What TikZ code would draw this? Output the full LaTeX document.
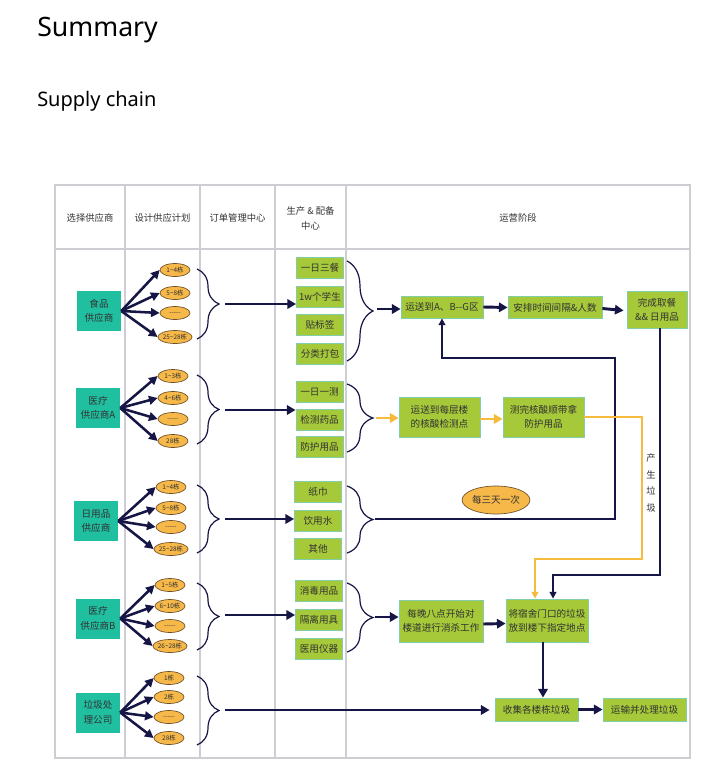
\documentclass[tikz,border=0pt]{standalone}
\usepackage{fontspec}
\setmainfont{Noto Sans}
\newfontfamily\cjk{Noto Sans CJK SC}
\usetikzlibrary{arrows.meta,shapes.geometric,decorations.pathreplacing}
\definecolor{tealc}{RGB}{32,191,160}
\definecolor{greenc}{RGB}{166,201,58}
\definecolor{greenb}{RGB}{130,205,170}
\definecolor{orangec}{RGB}{246,184,72}
\definecolor{orangeb}{RGB}{110,80,40}
\definecolor{orarr}{RGB}{246,186,60}
\definecolor{navy}{RGB}{22,22,70}
\definecolor{gridc}{RGB}{205,205,210}
\definecolor{txt}{RGB}{50,50,50}
\newcommand\mydashes{-{}-{}-{}-{}-}
\def\u{0.75pt}
\begin{document}
\begin{tikzpicture}[x=0.75pt,y=-0.75pt,
  hdr/.style={font=\cjk\fontsize{7}{11}\selectfont, text=txt, align=center},
  sup/.style={fill=tealc, draw=none, minimum width=44*\u, minimum height=40*\u, inner sep=0pt, align=center, font=\cjk\fontsize{7.2}{11}\selectfont, text=txt},
  ell/.style={ellipse, fill=orangec, draw=orangeb, line width=0.5pt, minimum width=30*\u, minimum height=13*\u, inner sep=0pt, font=\cjk\fontsize{4.8}{5}\selectfont, text=txt},
  gbox/.style={fill=greenc, draw=greenb, line width=0.6pt, minimum width=47*\u, minimum height=21*\u, inner sep=0pt, font=\cjk\fontsize{7.2}{10}\selectfont, text=txt},
  obox/.style={fill=greenc, draw=greenb, line width=0.6pt, inner sep=0pt, align=center, font=\cjk\fontsize{7.2}{10.5}\selectfont, text=txt},
  sarr/.style={draw=navy, line width=1.9pt, -{Triangle[length=6.5pt,width=6.5pt]}},
  marr/.style={draw=navy, line width=2.2pt, -{Triangle[length=6.5pt,width=7pt]}},
  oarr/.style={draw=orarr, line width=2.2pt, -{Triangle[length=6.5pt,width=7pt]}},
  loop/.style={draw=navy, line width=1.3pt},
  oloop/.style={draw=orarr, line width=1.3pt},
  brc/.style={draw=navy, line width=0.9pt, decorate, decoration={brace, amplitude=16.5pt}},
  brc2/.style={draw=navy, line width=0.9pt, decorate, decoration={brace, amplitude=19.5pt}},
  grid/.style={draw=gridc, line width=0.8pt}
]
\useasboundingbox (0,0) rectangle (709,772);
\fill[white] (0,0) rectangle (709,772);

% titles
\node[anchor=base west, inner sep=0pt, font=\fontsize{20}{24}\selectfont, text=black] (ttl) at (37,36) {Summary};
\node[anchor=base west, inner sep=0pt, font=\fontsize{15}{18}\selectfont, text=black] (sub) at (37,106) {Supply chain};

% table
\draw[grid] (55,185) rectangle (690,758);
\draw[grid] (55,249) -- (690,249);
\foreach \xx in {125,200,275,346} { \draw[grid] (\xx,185) -- (\xx,758); }

\node[hdr] (h1) at (90,218) {选择供应商};
\node[hdr] (h2) at (162.5,218) {设计供应计划};
\node[hdr] (h3) at (237.5,218) {订单管理中心};
\node[hdr] (h4) at (310.5,218.5) {生产 \& 配备\\中心};
\node[hdr] (h5) at (518,218) {运营阶段};

% suppliers
\node[sup] (s1) at (99,311) {食品\\供应商};
\node[sup] (s2) at (98,408) {医疗\\供应商A};
\node[sup] (s3) at (96,521) {日用品\\供应商};
\node[sup] (s4) at (98,618.5) {医疗\\供应商B};
\node[sup] (s5) at (98,712.5) {垃圾处\\理公司};

% ellipses
\foreach \n/\yy/\t in {a/270/{1\textasciitilde4栋}, b/293/{5\textasciitilde8栋}, c/313/{\mydashes}, d/337/{25\textasciitilde28栋}} {
  \node[ell] (e1\n) at (175,\yy) {\t};
  \draw[sarr] (s1.east) -- (e1\n.west);
}
\foreach \n/\yy/\t in {a/376/{1\textasciitilde3栋}, b/398/{4\textasciitilde6栋}, c/419/{\mydashes}, d/441/{28栋}} {
  \node[ell] (e2\n) at (173,\yy) {\t};
  \draw[sarr] (s2.east) -- (e2\n.west);
}
\foreach \n/\yy/\t in {a/487/{1\textasciitilde4栋}, b/508/{5\textasciitilde8栋}, c/527/{\mydashes}, d/549/{25\textasciitilde28栋}} {
  \node[ell] (e3\n) at (171,\yy) {\t};
  \draw[sarr] (s3.east) -- (e3\n.west);
}
\foreach \n/\yy/\t in {a/585/{1\textasciitilde5栋}, b/606/{6\textasciitilde10栋}, c/626/{\mydashes}, d/646/{26\textasciitilde28栋}} {
  \node[ell] (e4\n) at (170,\yy) {\t};
  \draw[sarr] (s4.east) -- (e4\n.west);
}
\foreach \n/\yy/\t in {a/678/{1栋}, b/697/{2栋}, c/717/{\mydashes}, d/738/{28栋}} {
  \node[ell] (e5\n) at (169,\yy) {\t};
  \draw[sarr] (s5.east) -- (e5\n.west);
}

% left braces
\draw[brc] (197,269) -- (197,339);
\draw[brc] (197,375) -- (197,444);
\draw[brc] (197,485) -- (197,553);
\draw[brc] (197,583) -- (197,650);
\draw[brc] (197,676) -- (197,745);

% green boxes
\node[gbox] (g1a) at (320,268) {一日三餐};
\node[gbox] (g1b) at (320,297) {1w个学生};
\node[gbox] (g1c) at (320,324.5) {贴标签};
\node[gbox] (g1d) at (320,353.5) {分类打包};
\node[gbox] (g2a) at (319.5,391.5) {一日一测};
\node[gbox] (g2b) at (319.5,420) {检测药品};
\node[gbox] (g2c) at (319.5,447) {防护用品};
\node[gbox] (g3a) at (318,492) {纸巾};
\node[gbox] (g3b) at (318,520.5) {饮用水};
\node[gbox] (g3c) at (318,548.5) {其他};
\node[gbox] (g4a) at (319,590.5) {消毒用品};
\node[gbox] (g4b) at (319,620) {隔离用具};
\node[gbox] (g4c) at (319,648.5) {医用仪器};

% arrows into production column
\coordinate (t1) at (225,304);
\coordinate (t2) at (225,410);
\coordinate (t3) at (225,519);
\coordinate (t4) at (225,615);
\coordinate (t5) at (225,710);
\draw[marr] (t1) -- (t1 -| g1b.west);
\draw[marr] (t2) -- (t2 -| g2b.west);
\draw[marr] (t3) -- (t3 -| g3b.west);
\draw[marr] (t4) -- (t4 -| g4b.west);

% right braces
\draw[brc2] (347,261) -- (347,361);
\draw[brc2] (347,384) -- (347,452);
\draw[brc2] (347,486) -- (347,553);
\draw[brc2] (347,583) -- (347,652);

% operation boxes
\node[obox, minimum width=82*\u, minimum height=22*\u] (o1) at (442,307) {运送到A、B-{}-G区};
\node[obox, minimum width=94*\u, minimum height=22*\u] (o2) at (555,307.5) {安排时间间隔\&人数};
\node[obox, minimum width=60*\u, minimum height=37*\u] (o3) at (657,309.5) {完成取餐\\\&\& 日用品};
\node[obox, minimum width=81*\u, minimum height=40*\u] (o4) at (439.5,417) {运送到每层楼\\的核酸检测点};
\node[obox, minimum width=81*\u, minimum height=40*\u] (o5) at (543.5,417) {测完核酸顺带拿\\防护用品};
\node[obox, minimum width=84*\u, minimum height=42*\u] (o6) at (441,621) {每晚八点开始对\\楼道进行消杀工作};
\node[obox, minimum width=82*\u, minimum height=43*\u] (o7) at (547,620.5) {将宿舍门口的垃圾\\放到楼下指定地点};
\node[obox, minimum width=83*\u, minimum height=23*\u] (o8) at (536.5,709.5) {收集各楼栋垃圾};
\node[obox, minimum width=83*\u, minimum height=23*\u] (o9) at (644.5,709.5) {运输并处理垃圾};

\node[ellipse, fill=orangec, draw=orangeb, line width=0.5pt, minimum width=65*\u, minimum height=28*\u, inner sep=0pt, font=\cjk\fontsize{7.2}{9}\selectfont, text=txt] (ev) at (496,500) {每三天一次};

\node[font=\cjk\fontsize{7}{12.5}\selectfont, text=txt, align=center, inner sep=0pt] (lbl) at (651,483) {产\\生\\垃\\圾};

% operation flow
\coordinate (r1) at (377,309);
\coordinate (r2) at (376,418);
\coordinate (r3) at (375,519);
\coordinate (r4) at (375,617);
\draw[marr] (r1) -- (r1 -| o1.west);
\draw[marr] (o1.east) -- (o2.west);
\draw[marr] ([yshift=-1*\u]o2.east) -- ([xshift=-3*\u,yshift=-1*\u]o3.west);
\draw[oarr] (r2) -- (r2 -| o4.west);
\draw[oarr] ([yshift=-2*\u]o4.east) -- ([yshift=-2*\u]o5.west);
\draw[marr] (r4) -- (r4 -| o6.west);
\draw[marr] ([yshift=-3*\u]o6.east) -- ([yshift=-3*\u]o7.west);

% loop from 日用品 back to o1
\coordinate (k1) at (615,519);
\coordinate (k2) at (615,358);
\draw[loop, -{Triangle[length=5pt,width=5pt]}] (r3) -- (k1) -- (k2) -- (k2 -| o1.south) -- (o1.south);

% from o3 down to o7
\coordinate (m1) at (660,575);
\coordinate (m2) at (553,575);
\draw[loop, -{Triangle[length=5pt,width=5pt]}] (o3.south -| m1) -- (m1) -- (m2) -- (m2 |- o7.north);

% orange from o5 to o7
\coordinate (n1) at (642,417);
\coordinate (n2) at (642,559);
\coordinate (n3) at (535,559);
\draw[oloop, -{Triangle[length=5pt,width=5pt]}] (o5.east) -- (n1) -- (n2) -- (n3) -- (n3 |- o7.north);

% garbage
\draw[marr] ([xshift=-4*\u]o7.south) -- ([xshift=6.5*\u]o8.north);
\draw[marr] (t5) -- ([xshift=-5*\u]t5 -| o8.west);
\draw[marr] (o8.east) -- (o9.west);
\end{tikzpicture}
\end{document}
